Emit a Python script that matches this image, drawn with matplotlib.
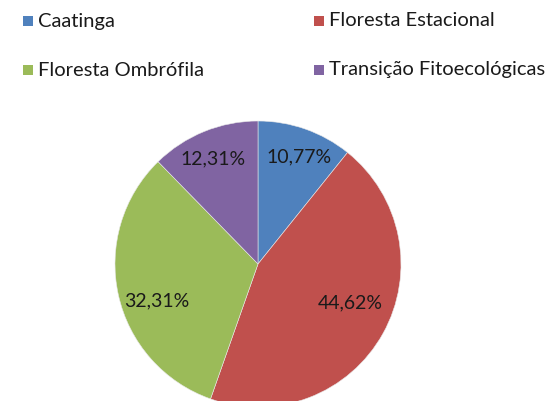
import numpy as np
import matplotlib.pyplot as plt
from matplotlib.patches import Rectangle

# ── data ──────────────────────────────────────────────────────────────────────
categories = ["Caatinga", "Floresta Estacional", "Floresta Ombrófila",
              "Transição Fitoecológicas"]
shares = [10.77, 44.62, 32.31, 12.31]
colours = ["#4F81BD", "#C0504D", "#9BBB59", "#8064A2"]

FONT = "Lato"
W, H = 558, 401

fig = plt.figure(figsize=(W / 100, H / 100), dpi=100)
fig.patch.set_facecolor("white")

# pie: centre (258, 264) px from top-left, radius 143 px
cx, cy, r = 258, 264, 143
ax = fig.add_axes([(cx - r) / W, (H - cy - r) / H, 2 * r / W, 2 * r / H])

wedges, _ = ax.pie(shares, colors=colours, startangle=90, counterclock=False,
                   radius=1, wedgeprops=dict(linewidth=0.4, edgecolor="#e8e8e8"))
# pie() resets the limits, so set them afterwards
ax.set_xlim(-1, 1)
ax.set_ylim(-1, 1)
ax.set_aspect("equal")
ax.axis("off")

# label placement (radius fraction, angle nudge in degrees) per slice
label_r = [0.80, 0.70, 0.75, 0.80]
label_da = [-1.5, 6.5, 7.5, 1.0]
for w, val, lr, da in zip(wedges, shares, label_r, label_da):
    mid = np.radians((w.theta1 + w.theta2) / 2 + da)
    ax.text(lr * np.cos(mid), lr * np.sin(mid), f"{val:.2f}%".replace(".", ","),
            ha="center", va="center", fontsize=14, color="#1a1a1a",
            family=FONT)

# ── legend: two columns, drawn in pixel positions ─────────────────────────────
col_x = [23, 314]
row_y = [21, 70]
for i, (lab, c) in enumerate(zip(categories, colours)):
    x0 = col_x[i % 2]
    y0 = row_y[i // 2]
    fig.patches.append(Rectangle((x0 / W, (H - y0 - 5) / H), 10 / W, 10 / H,
                                 transform=fig.transFigure, facecolor=c,
                                 edgecolor="none"))
    fig.text((x0 + 15) / W, (H - y0) / H, lab, ha="left", va="center",
             fontsize=14.5, color="#1a1a1a", family=FONT)

fig.savefig("out.png", dpi=100)
